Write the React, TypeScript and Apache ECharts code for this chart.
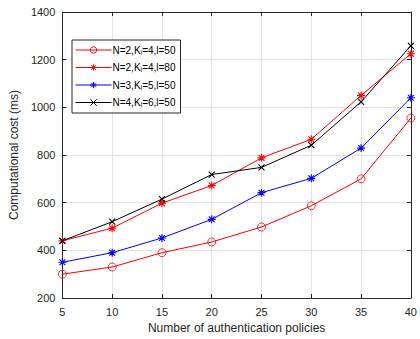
import React, { useEffect, useRef } from "react";
import * as echarts from "echarts";

const xValues = [5, 10, 15, 20, 25, 30, 35, 40];
const seriesNames = [
  "N=2,K{sub|i}=4,l=50",
  "N=2,K{sub|i}=4,l=80",
  "N=3,K{sub|i}=5,l=50",
  "N=4,K{sub|i}=6,l=50",
];
const redCircle = [300, 330, 390, 435, 498, 587, 700, 955];
const redStar = [440, 493, 598, 672, 788, 866, 1050, 1225];
const blueStar = [350, 390, 452, 530, 642, 702, 829, 1040];
const blackX = [440, 520, 615, 718, 748, 841, 1023, 1258];
const yTicks = { min: 200, max: 1400, interval: 200 };

const ASTERISK = "path://M0,-5L0,5M-5,0L5,0M-3.6,-3.6L3.6,3.6M-3.6,3.6L3.6,-3.6";
const CROSS = "path://M-5,-5L5,5M-5,5L5,-5";

const TXT = "#262626";
const FONT = "Liberation Sans, Arial, Helvetica, sans-serif";

export default function App() {
  const ref = useRef<HTMLDivElement>(null);
  useEffect(() => {
    if (!ref.current) return;
    const chart = echarts.init(ref.current, undefined, { renderer: "svg" });
    const pair = (arr: number[]) => xValues.map((x, i) => [x, arr[i]]);
    const mk = (name: string, data: number[], color: string, symbol: string, size: number, fill: string, bw: number) => ({
      type: "line",
      name,
      data: pair(data),
      symbol,
      symbolSize: size,
      showSymbol: true,
      lineStyle: { color, width: 1 },
      itemStyle: { color: fill, borderColor: color, borderWidth: bw },
      emphasis: { disabled: true },
      z: 3,
    });
    const axisCommon = {
      axisLine: { show: true, lineStyle: { color: TXT, width: 1 } },
      axisTick: { show: true, inside: true, length: 4, lineStyle: { color: TXT } },
    };
    chart.setOption({
      animation: false,
      textStyle: { fontFamily: FONT },
      grid: { left: 53, right: 4, top: 12, bottom: 41, containLabel: false },
      legend: {
        orient: "vertical",
        left: 72,
        top: 40,
        padding: [5, 5, 5, 3],
        itemGap: 7,
        itemWidth: 36,
        itemHeight: 8,
        backgroundColor: "#fff",
        borderColor: TXT,
        borderWidth: 1,
        borderRadius: 0,
        lineStyle: { width: 1 },
        itemStyle: { borderWidth: 1 },
        textStyle: {
          fontSize: 10,
          color: "#000",
          fontFamily: FONT,
          padding: [0, 0, 0, -4],
          rich: { sub: { fontSize: 7, padding: [4, 0, 0, 0], fontFamily: FONT, color: "#000" } },
        },
        data: seriesNames,
      },
      xAxis: [
        {
          type: "value",
          min: 5,
          max: 40,
          interval: 5,
          name: "Number of authentication policies",
          nameLocation: "middle",
          nameGap: 21,
          nameTextStyle: { fontSize: 12, color: TXT, fontFamily: FONT },
          axisLabel: { fontSize: 11, color: TXT, margin: 8, fontFamily: FONT },
          splitLine: { show: true, lineStyle: { color: "#e3e3e3", width: 1 } },
          ...axisCommon,
        },
        {
          type: "value",
          position: "top",
          min: 5,
          max: 40,
          interval: 5,
          axisLabel: { show: false },
          splitLine: { show: false },
          ...axisCommon,
        },
      ],
      yAxis: [
        {
          type: "value",
          ...yTicks,
          name: "Computational cost (ms)",
          nameLocation: "middle",
          nameGap: 32,
          nameTextStyle: { fontSize: 12, color: TXT, fontFamily: FONT },
          axisLabel: { fontSize: 11, color: TXT, margin: 7, fontFamily: FONT, formatter: (v: number) => String(v) },
          splitLine: { show: true, lineStyle: { color: "#e3e3e3", width: 1 } },
          ...axisCommon,
        },
        {
          type: "value",
          position: "right",
          ...yTicks,
          axisLabel: { show: false },
          splitLine: { show: false },
          ...axisCommon,
        },
      ],
      series: [
        mk(seriesNames[0], redCircle, "#ff0000", "circle", 8, "rgba(255,255,255,0)", 0.8),
        mk(seriesNames[1], redStar, "#ff0000", ASTERISK, 8, "#ff0000", 1.1),
        mk(seriesNames[2], blueStar, "#0000ff", ASTERISK, 8, "#0000ff", 1.1),
        mk(seriesNames[3], blackX, "#000000", CROSS, 6, "#000000", 1.1),
      ],
    });
    return () => chart.dispose();
  }, []);
  return (
    <div
      ref={ref}
      style={{ position: "absolute", left: 0, top: 0, width: 420, height: 339, background: "#fff" }}
    />
  );
}
